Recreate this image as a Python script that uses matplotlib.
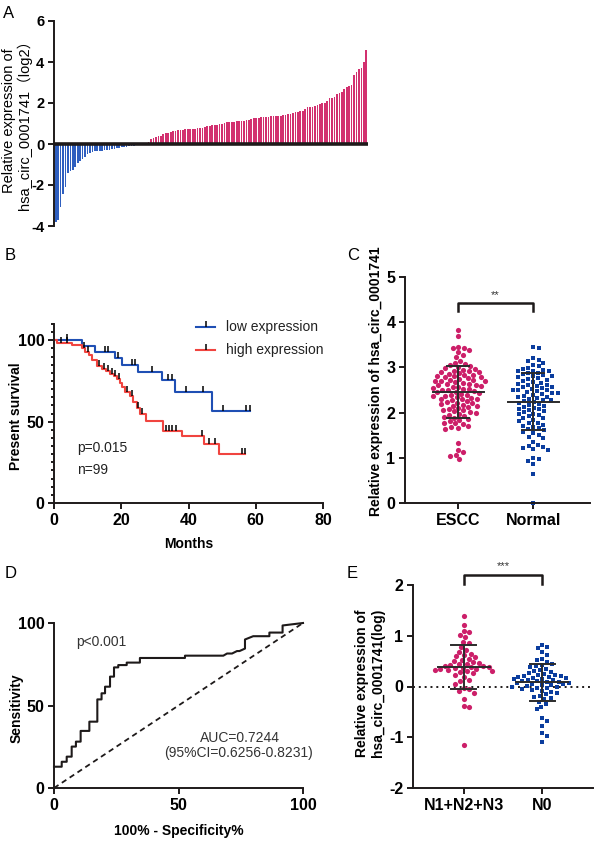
import numpy as np
import matplotlib
matplotlib.use("Agg")
import matplotlib.pyplot as plt
from matplotlib.ticker import MultipleLocator

plt.rcParams['font.family'] = ['Liberation Sans', 'Noto Sans CJK SC', 'DejaVu Sans']
plt.rcParams['axes.unicode_minus'] = False

# ---------------- data ----------------
# Panel A: waterfall of relative expression (log2)
a_neg = [-3.80, -3.70, -3.07, -2.45, -2.08, -1.43, -1.32, -1.27, -1.10, -0.95,
         -0.82, -0.72, -0.62, -0.50, -0.43, -0.38, -0.36, -0.35, -0.33, -0.32,
         -0.31, -0.29, -0.27, -0.25, -0.23, -0.21, -0.19, -0.17, -0.15, -0.13,
         -0.12, -0.10, -0.08, -0.07, -0.05, -0.04, -0.02, -0.01]
a_pos = [0.11, 0.23, 0.30, 0.36, 0.39, 0.41, 0.49, 0.52, 0.53, 0.57,
         0.62, 0.65, 0.68, 0.70, 0.70, 0.72, 0.72, 0.73, 0.74, 0.75,
         0.76, 0.77, 0.80, 0.85, 0.88, 0.89, 0.91, 0.92, 0.94, 0.96,
         1.00, 1.04, 1.05, 1.06, 1.07, 1.09, 1.10, 1.11, 1.12, 1.14,
         1.15, 1.17, 1.20, 1.25, 1.26, 1.27, 1.30, 1.32, 1.33, 1.34,
         1.37, 1.37, 1.37, 1.38, 1.39, 1.40, 1.40, 1.45, 1.47, 1.53,
         1.56, 1.58, 1.59, 1.61, 1.69, 1.79, 1.79, 1.80, 1.85, 1.90,
         1.95, 1.98, 2.02, 2.10, 2.23, 2.26, 2.28, 2.44, 2.47, 2.52,
         2.67, 2.76, 2.83, 2.88, 3.37, 3.53, 3.64, 3.69, 4.02, 4.59]

# Panel B: Kaplan-Meier curves (months, % survival)
low_t = [0, 8.2, 12.2, 18.2, 20.1, 25.1, 32.0, 36.0, 47.1, 58.3]
low_s = [100, 96.4, 92.5, 89.3, 84.5, 80.3, 75.6, 68.0, 56.5, 56.5]
low_cens = [3.8, 15.1, 16.1, 19.0, 23.2, 24.2, 29.0, 34.0, 35.0, 39.2, 44.4, 50.2, 57.0, 58.2]
high_t = [0, 1.0, 5.3, 8.2, 9.2, 10.3, 11.2, 12.8, 14.2, 15.5, 16.7, 17.7, 18.6,
          19.6, 20.3, 21.1, 22.6, 23.6, 24.6, 25.6, 27.3, 32.5, 38.0, 44.6, 49.2, 56.8]
high_s = [100, 98.5, 97.0, 95.0, 93.0, 91.0, 88.0, 84.0, 82.5, 81.0, 79.5, 78.0, 76.0,
          73.5, 71.0, 68.0, 65.5, 62.0, 58.5, 55.0, 50.5, 44.5, 41.0, 36.0, 30.0, 30.0]
high_cens = [2.0, 4.0, 9.0, 10.0, 13.5, 15.0, 16.2, 17.2, 18.2, 19.2, 21.8, 23.2,
             25.0, 26.3, 33.2, 34.2, 35.2, 36.2, 44.0, 46.0, 48.0, 56.0, 56.8]

# Panel C: scatter ESCC vs Normal
c_groups = ['ESCC', 'Normal']
escc = [3.82, 3.70, 3.45, 3.44, 3.42, 3.38, 3.33, 3.28, 3.22, 3.15, 3.10, 3.07, 3.06, 3.04,
        3.00, 2.98, 2.97, 2.95, 2.93, 2.92, 2.90, 2.89, 2.87, 2.86, 2.84, 2.83, 2.81, 2.80,
        2.79, 2.78, 2.76, 2.75, 2.73, 2.72, 2.71, 2.70, 2.69, 2.67, 2.66, 2.64, 2.63, 2.61,
        2.60, 2.59, 2.57, 2.56, 2.55, 2.53, 2.52, 2.50, 2.49, 2.47, 2.46, 2.45, 2.43, 2.42,
        2.40, 2.39, 2.37, 2.36, 2.34, 2.33, 2.31, 2.30, 2.29, 2.27, 2.25, 2.24, 2.22, 2.21,
        2.19, 2.17, 2.15, 2.14, 2.12, 2.10, 2.08, 2.06, 2.05, 2.03, 2.01, 1.99, 1.97, 1.95,
        1.93, 1.91, 1.89, 1.86, 1.84, 1.81, 1.78, 1.76, 1.74, 1.71, 1.68, 1.66, 1.64,
        1.32, 1.18, 1.13, 1.07, 1.04, 0.98]
normal = [3.46, 3.43, 3.20, 3.17, 3.15, 3.10, 3.05, 3.02, 2.99, 2.97, 2.95, 2.93, 2.92, 2.91,
          2.88, 2.87, 2.85, 2.83, 2.82, 2.80, 2.78, 2.76, 2.74, 2.73, 2.71, 2.68, 2.66, 2.64,
          2.62, 2.61, 2.59, 2.57, 2.56, 2.54, 2.52, 2.51, 2.50, 2.49, 2.47, 2.46, 2.44, 2.43,
          2.41, 2.39, 2.37, 2.35, 2.34, 2.32, 2.30, 2.28, 2.27, 2.25, 2.23, 2.21, 2.19, 2.17,
          2.15, 2.13, 2.11, 2.09, 2.07, 2.05, 2.03, 2.01, 1.98, 1.96, 1.94, 1.92, 1.89, 1.87,
          1.84, 1.82, 1.78, 1.76, 1.73, 1.71, 1.68, 1.66, 1.63, 1.61, 1.57, 1.54, 1.51, 1.47,
          1.44, 1.35, 1.29, 1.27, 1.24, 1.22, 1.20, 1.18, 1.00, 0.97, 0.94, 0.86, 0.65, 0.00]
c_mean = [2.46, 2.24]
c_sd = [0.57, 0.63]

# Panel D: ROC curve (100% - specificity, sensitivity)
roc_x = [0, 3.1, 3.1, 5.1, 5.1, 7.1, 7.1, 8.8, 8.8, 10.7, 10.7, 14.2, 14.2, 17.4, 17.4,
         19.1, 19.1, 20.5, 20.5, 22.5, 22.5, 24.1, 24.1, 25.8, 25.8, 29.2, 29.2, 34.5, 34.5,
         52.6, 52.6, 68.0, 69.5, 71.5, 73.5, 74.5, 76.7, 76.7, 80.0, 86.5, 86.5, 91.8, 91.8, 100]
roc_y = [12.9, 12.9, 15.9, 15.9, 19.0, 19.0, 25.1, 25.1, 28.1, 28.1, 34.6, 34.6, 40.2, 40.2,
         53.7, 53.7, 57.4, 57.4, 61.4, 61.4, 67.5, 67.5, 73.1, 73.1, 74.5, 74.5, 76.0, 76.0,
         78.8, 78.8, 80.2, 80.2, 81.5, 81.5, 83.0, 83.0, 84.5, 90.0, 92.0, 92.0, 94.2, 94.2,
         98.5, 100]

# Panel E: lymph node groups
e_groups = ['N1+N2+N3', 'N0']
n123 = [1.38, 1.22, 1.10, 1.08, 1.02, 0.98, 0.88, 0.85, 0.78, 0.72, 0.68, 0.65, 0.62,
        0.60, 0.58, 0.55, 0.52, 0.50, 0.48, 0.47, 0.45, 0.44, 0.42, 0.41, 0.40, 0.39,
        0.38, 0.37, 0.36, 0.35, 0.34, 0.33, 0.32, 0.31, 0.30, 0.28, 0.26, 0.22, 0.18,
        0.12, 0.10, 0.05, -0.02, -0.05, -0.08, -0.12, -0.25, -0.38, -0.40, -1.15]
n0 = [0.82, 0.78, 0.75, 0.68, 0.62, 0.55, 0.52, 0.48, 0.45, 0.42, 0.40, 0.38, 0.35,
      0.32, 0.30, 0.28, 0.26, 0.25, 0.23, 0.22, 0.21, 0.20, 0.19, 0.18, 0.17, 0.16,
      0.15, 0.14, 0.13, 0.12, 0.11, 0.10, 0.09, 0.08, 0.07, 0.06, 0.05, 0.04, 0.03,
      0.02, 0.01, 0.00, -0.01, -0.02, -0.03, -0.05, -0.06, -0.08, -0.10, -0.12, -0.15,
      -0.18, -0.20, -0.22, -0.25, -0.30, -0.35, -0.40, -0.45, -0.62, -0.68, -0.78,
      -0.92, -0.98, -1.10]
e_mean = [0.38, 0.08]
e_sd = [0.43, 0.37]

# ---------------- style ----------------
PINK = '#cc1f69'
PINK_BAR = '#d2306f'
BLUE = '#0b3d9e'
BLUE_BAR = '#2f5fbf'
KM_BLUE = '#1f4fb4'
KM_RED = '#f0443f'
INK = '#1e1a1a'
LW = 1.4
TICK_FS = 11.5

fig = plt.figure(figsize=(6.0, 8.41), dpi=100)
W, H = 600.0, 841.0


def add_ax(l, r, t, b):
    return fig.add_axes([l / W, 1 - b / H, (r - l) / W, (b - t) / H])


def style(ax, bottom=True, fs=TICK_FS):
    for s in ['top', 'right']:
        ax.spines[s].set_visible(False)
    ax.spines['left'].set_linewidth(LW)
    ax.spines['left'].set_color(INK)
    ax.spines['bottom'].set_linewidth(LW)
    ax.spines['bottom'].set_color(INK)
    if not bottom:
        ax.spines['bottom'].set_visible(False)
    ax.tick_params(direction='out', length=4, width=LW, color=INK, labelsize=fs, pad=3)
    for lab in ax.get_xticklabels() + ax.get_yticklabels():
        lab.set_fontweight('bold')


def swarm(vals, center, x_px, y_px, d):
    vals = np.asarray(vals, float)
    order = np.argsort(vals)[::-1]
    placed = []
    offs = np.zeros(len(vals))
    cands = [0.0]
    for k in range(1, 400):
        cands += [k * 0.4, -k * 0.4]
    for i in order:
        y = vals[i] * y_px
        near = [(px, py) for px, py in placed if abs(py - y) < d]
        for c in cands:
            if all((c - px) ** 2 + (y - py) ** 2 >= d * d for px, py in near):
                break
        placed.append((c, y))
        offs[i] = c
    return center + offs / x_px


def vlabel(x, y, text, **kw):
    fig.text(x / W, 1 - y / H, text, rotation=90, ha='center', va='center', **kw)


# ---------------- Panel A ----------------
axA = add_ax(54, 368, 21, 226)
vals = a_neg + a_pos
xs = np.arange(len(vals))
cols = [BLUE_BAR] * len(a_neg) + [PINK_BAR] * len(a_pos)
axA.bar(xs, vals, width=0.7, color=cols, linewidth=0)
axA.axhline(0, color=INK, lw=2.6, zorder=3)
axA.set_xlim(-0.7, len(vals) - 0.3)
axA.set_ylim(-4, 6)
axA.set_yticks([-4, -2, 0, 2, 4, 6])
axA.set_xticks([])
style(axA, bottom=False, fs=10.5)
vlabel(17, 121, 'Relative expression of\nhsa_circ_0001741（log2）', fontsize=10.5,
       linespacing=1.0)

# ---------------- Panel B ----------------
axB = add_ax(54, 323, 324, 503)
axB.plot(low_t, low_s, drawstyle='steps-post', color=KM_BLUE, lw=1.5)
axB.plot(high_t, high_s, drawstyle='steps-post', color=KM_RED, lw=1.5)
ls_c = [low_s[np.searchsorted(low_t, c, side='right') - 1] for c in low_cens]
hs_c = [high_s[np.searchsorted(high_t, c, side='right') - 1] for c in high_cens]
axB.plot(low_cens, ls_c, ls='none', marker=2, ms=4, mew=1.1, color='k')
axB.plot(high_cens, hs_c, ls='none', marker=2, ms=4, mew=1.1, color='k')
axB.set_xlim(0, 80)
axB.set_ylim(0, 110)
axB.set_xticks([0, 20, 40, 60, 80])
axB.set_yticks([0, 50, 100])
axB.yaxis.set_minor_locator(MultipleLocator(5))
axB.tick_params(axis='y', which='minor', length=2.5, width=LW, color=INK)
style(axB)
axB.set_xlabel('Months', fontsize=10, fontweight='bold', labelpad=7)
vlabel(16.5, 416, 'Present survival', fontsize=10, fontweight='bold')
# legend (manual)
for yy, col, lab in [(327, KM_BLUE, 'low expression'), (350, KM_RED, 'high expression')]:
    fy = 1 - yy / H
    fig.add_artist(plt.Line2D([196 / W, 215 / W], [fy, fy], color=col, lw=1.5))
    fig.add_artist(plt.Line2D([205.5 / W], [fy], marker=2, ms=4, mew=1.1, color='k'))
    fig.text(226 / W, fy, lab, fontsize=10, va='center', ha='left', color='#222222')
axB.text(7.0, 33.5, 'p=0.015', fontsize=10, va='center', color='#222222')
axB.text(7.0, 20.0, 'n=99', fontsize=10, va='center', color='#222222')

# ---------------- Panel C ----------------
axC = add_ax(405, 590, 277, 503)
axC.set_xlim(-0.71, 1.76)
axC.set_ylim(0, 5)
xpx, ypx = 75.0, 45.2
for i, (data, col, mk) in enumerate([(escc, PINK, 'o'), (normal, BLUE, 's')]):
    xx = swarm(data, i, xpx, ypx, 5.4)
    axC.scatter(xx, data, s=14 if mk == 'o' else 12, marker=mk, color=col, linewidths=0,
                zorder=2, clip_on=False)
    m, sd = c_mean[i], c_sd[i]
    axC.plot([i - 0.34, i + 0.34], [m, m], color='#2b2b2b', lw=1.4, zorder=3)
    axC.plot([i, i], [m - sd, m + sd], color='#2b2b2b', lw=1.4, zorder=3)
    for v in (m - sd, m + sd):
        axC.plot([i - 0.15, i + 0.15], [v, v], color='#2b2b2b', lw=1.4, zorder=3)
axC.plot([0, 0, 1, 1], [4.25, 4.42, 4.42, 4.25], color=INK, lw=1.8)
axC.text(0.5, 4.6, '**', ha='center', va='center', fontsize=8, color='#333333')
axC.set_xticks([0, 1])
axC.set_xticklabels(c_groups)
axC.set_yticks([0, 1, 2, 3, 4, 5])
style(axC)
vlabel(376, 381, 'Relative expression of hsa_circ_0001741', fontsize=10, fontweight='bold')

# ---------------- Panel D ----------------
axD = add_ax(54, 303, 623, 788)
axD.plot(roc_x, roc_y, color=INK, lw=1.5, clip_on=False)
axD.plot([0, 100], [0, 100], color=INK, lw=1.3, ls=(0, (3, 2.2)))
axD.set_xlim(0, 100)
axD.set_ylim(0, 100)
axD.set_xticks([0, 50, 100])
axD.set_yticks([0, 50, 100])
style(axD)
axD.set_xlabel('100% - Specificity%', fontsize=10, fontweight='bold', labelpad=8)
vlabel(16.5, 708, 'Sensitivity', fontsize=10, fontweight='bold')
axD.text(8.8, 88.7, 'p<0.001', fontsize=10, va='center', color='#333333')
axD.text(74.5, 30.3, 'AUC=0.7244', fontsize=10, va='center', ha='center', color='#333333')
axD.text(74.0, 21.2, '(95%CI=0.6256-0.8231)', fontsize=10, va='center', ha='center',
         color='#333333')

# ---------------- Panel E ----------------
axE = add_ax(413, 593, 585, 788)
axE.set_xlim(-0.65, 1.65)
axE.set_ylim(-2, 2)
xpx, ypx = 78.0, 50.75
axE.axhline(0, color=INK, lw=1.4, ls=(0, (1, 2)), zorder=1)
for i, (data, col, mk) in enumerate([(n123, PINK, 'o'), (n0, BLUE, 's')]):
    xx = swarm(data, i, xpx, ypx, 5.4)
    axE.scatter(xx, data, s=14 if mk == 'o' else 12, marker=mk, color=col, linewidths=0,
                zorder=2)
    m, sd = e_mean[i], e_sd[i]
    axE.plot([i - 0.33, i + 0.33], [m, m], color='#2b2b2b', lw=1.4, zorder=3)
    axE.plot([i, i], [m - sd, m + sd], color='#2b2b2b', lw=1.4, zorder=3)
    for v in (m - sd, m + sd):
        axE.plot([i - 0.16, i + 0.16], [v, v], color='#2b2b2b', lw=1.4, zorder=3)
axE.plot([0, 0, 1, 1], [2.02, 2.2, 2.2, 2.02], color=INK, lw=1.8, clip_on=False)
axE.text(0.5, 2.38, '***', ha='center', va='center', fontsize=8, color='#333333')
axE.set_xticks([0, 1])
axE.set_xticklabels(e_groups)
axE.set_yticks([-2, -1, 0, 1, 2])
style(axE)
vlabel(370, 683, 'Relative expression of\nhsa_circ_0001741(log)', fontsize=10,
       fontweight='bold', linespacing=1.15)

# ---------------- panel letters ----------------
for lab, x, y in [('A', 3, 6), ('B', 5, 248), ('C', 347, 248), ('D', 5, 566), ('E', 347, 566)]:
    fig.text(x / W, 1 - y / H, lab, fontsize=12, va='top', ha='left')

fig.savefig('out.png', dpi=100)
